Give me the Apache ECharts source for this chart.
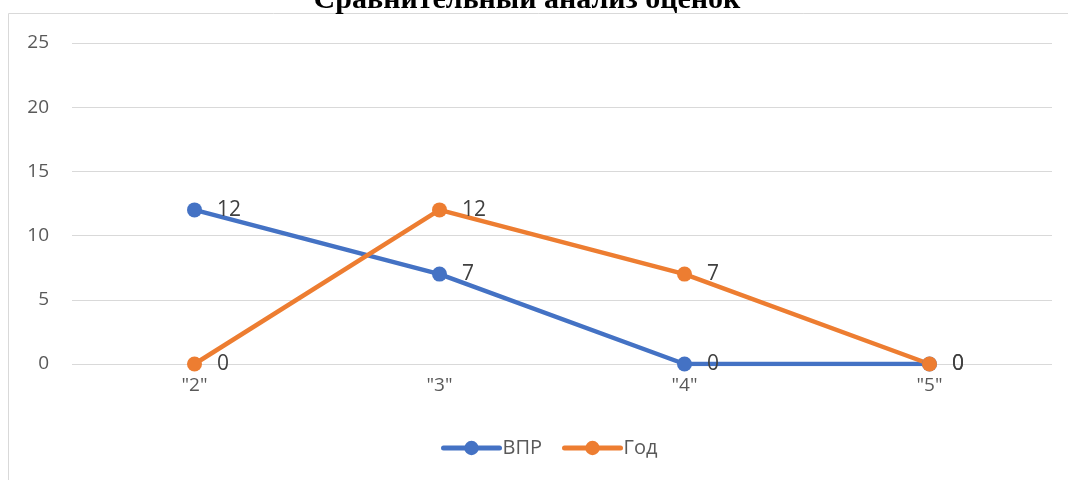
<!DOCTYPE html>
<html><head><meta charset="utf-8">
<script src="https://cdn.jsdelivr.net/npm/echarts@6/dist/echarts.min.js"></script>
<style>html,body{margin:0;padding:0;background:#fff}#c{width:1068px;height:480px}</style>
</head><body><div id="c"></div>
<script>
const categories = ['"2"', '"3"', '"4"', '"5"'];
const vprValues = [12, 7, 0, 0];
const godValues = [0, 12, 7, 0];
const seriesNames = ['ВПР', 'Год'];
const titleText = 'Сравнительный анализ оценок';

const chart = echarts.init(document.getElementById('c'), null, {renderer: 'canvas'});
const font = '"Open Sans", "Noto Sans", sans-serif';
function mkSeries(name, data, color) {
  return {
    name, type: 'line', data,
    lineStyle: {width: 4.5, color},
    itemStyle: {color},
    symbol: 'circle', symbolSize: 15,
    label: {show: true, position: 'right', distance: 15, color: '#404040', fontSize: 21, fontFamily: font}
  };
}
chart.setOption({
  animation: false,
  graphic: [
    {type: 'rect', shape: {x: 8.5, y: 13.5, width: 1100, height: 500}, style: {fill: 'none', stroke: '#d9d9d9', lineWidth: 1}, z: -1},
    {type: 'text', x: 527, y: 15, style: {text: titleText, font: 'bold 30px "Liberation Serif", serif', fill: '#000', align: 'center', verticalAlign: 'bottom'}}
  ],
  grid: {left: 72, right: 16, top: 43, bottom: 116},
  legend: {
    data: seriesNames, top: 433, left: 436, itemWidth: 56, itemHeight: 18, itemGap: 20,
    lineStyle: {width: 5, cap: 'round'},
    textStyle: {color: '#595959', fontSize: 20, fontFamily: font, padding: [0, 0, 0, -2]}
  },
  xAxis: {
    type: 'category', data: categories, boundaryGap: true,
    axisLine: {show: false}, axisTick: {show: false},
    axisLabel: {color: '#595959', fontSize: 19, fontFamily: font, margin: 12}
  },
  yAxis: {
    type: 'value', min: 0, max: 25, interval: 5,
    axisLine: {show: false}, axisTick: {show: false},
    axisLabel: {color: '#595959', fontSize: 19, fontFamily: font, margin: 23},
    splitLine: {lineStyle: {color: '#d9d9d9', width: 1}}
  },
  series: [mkSeries(seriesNames[0], vprValues, '#4472C4'), mkSeries(seriesNames[1], godValues, '#ED7D31')]
});
</script></body></html>
